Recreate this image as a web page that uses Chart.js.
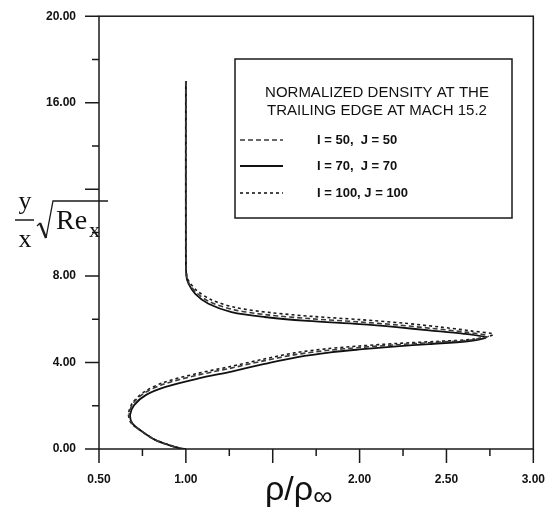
<!DOCTYPE html>
<html lang="en">
<head>
  <meta charset="UTF-8">
  <title>Normalized density at the trailing edge</title>
  <style>
    html, body { margin: 0; padding: 0; background: #ffffff; }
    #wrap { width: 554px; height: 510px; }
  </style>
</head>
<body>
  <div id="wrap"><canvas id="densityChart" width="554" height="510"></canvas></div>

  <script src="https://cdn.jsdelivr.net/npm/chart.js"></script>
  <script>
    // values (rho/rho_inf and y/x*sqrt(Re_x))
    const rhoI50 = [1.0, 1.0, 1.004, 1.017, 1.06, 1.14, 1.28, 1.47, 1.72, 2.0, 2.22, 2.42, 2.61, 2.74,
                    2.64, 2.42, 2.22, 2.0, 1.82, 1.63, 1.44, 1.25, 1.06, 0.87, 0.76, 0.695, 0.674, 0.688, 0.745, 0.822, 0.90, 0.968, 1.0];
    const etaI50 = [17.0, 9.0, 8.0, 7.68, 7.23, 6.79, 6.43, 6.20, 6.02, 5.87, 5.73, 5.57, 5.40, 5.22,
                    5.04, 4.92, 4.82, 4.69, 4.56, 4.36, 4.06, 3.72, 3.40, 2.99, 2.58, 2.10, 1.60, 1.19, 0.82, 0.43, 0.19, 0.035, 0.0];

    const rhoI70 = [1.0, 1.0, 1.003, 1.015, 1.054, 1.13, 1.263, 1.453, 1.70, 2.0, 2.213, 2.40, 2.593, 2.726,
                    2.62, 2.40, 2.213, 2.0, 1.833, 1.643, 1.453, 1.263, 1.073, 0.883, 0.769, 0.702, 0.679, 0.693, 0.75, 0.826, 0.902, 0.968, 1.0];
    const etaI70 = [17.0, 9.0, 8.0, 7.64, 7.17, 6.71, 6.33, 6.10, 5.92, 5.77, 5.63, 5.48, 5.33, 5.15,
                    4.98, 4.85, 4.74, 4.60, 4.47, 4.25, 3.93, 3.58, 3.26, 2.87, 2.49, 2.03, 1.57, 1.18, 0.80, 0.41, 0.18, 0.03, 0.0];

    const rhoI100 = [1.0, 1.0, 1.005, 1.02, 1.066, 1.15, 1.29, 1.49, 1.74, 2.0, 2.25, 2.46, 2.64, 2.77,
                     2.66, 2.44, 2.22, 2.0, 1.82, 1.63, 1.44, 1.25, 1.06, 0.87, 0.76, 0.695, 0.67, 0.683, 0.74, 0.818, 0.90, 0.968, 1.0];
    const etaI100 = [17.0, 9.0, 8.0, 7.72, 7.30, 6.88, 6.53, 6.30, 6.12, 5.98, 5.82, 5.64, 5.46, 5.30,
                     5.08, 4.97, 4.88, 4.76, 4.64, 4.45, 4.14, 3.80, 3.48, 3.07, 2.64, 2.15, 1.64, 1.22, 0.85, 0.45, 0.20, 0.04, 0.0];

    const seriesLabels = ['I = 50,  J = 50', 'I = 70,  J = 70', 'I = 100, J = 100'];
    const xLabeledTicks = [0.5, 1.0, 2.0, 2.5, 3.0];
    const yLabeledTicks = [0, 4, 8, 16, 20];
    const legendTitle = ['NORMALIZED DENSITY AT THE', 'TRAILING EDGE AT MACH 15.2'];

    const toPoints = (xs, ys) => xs.map((x, i) => ({ x: x, y: ys[i] }));

    // axis ticks (long at labelled steps, short in between), frame, titles and legend box
    const decorations = {
      id: 'decorations',
      afterDraw(chart) {
        const ctx = chart.ctx;
        const area = chart.chartArea;
        const xs = chart.scales.x;
        const ys = chart.scales.y;
        ctx.save();
        ctx.strokeStyle = '#1a1a1a';
        ctx.lineWidth = 1.5;
        ctx.strokeRect(area.left, area.top, area.right - area.left, area.bottom - area.top);

        ctx.beginPath();
        xs.ticks.forEach(t => {
          const px = xs.getPixelForValue(t.value);
          const major = Math.abs(t.value * 2 - Math.round(t.value * 2)) < 1e-6;
          ctx.moveTo(px, area.bottom);
          ctx.lineTo(px, area.bottom + (major ? 14 : 7));
        });
        ys.ticks.forEach(t => {
          const py = ys.getPixelForValue(t.value);
          const major = Math.round(t.value) % 4 === 0;
          ctx.moveTo(area.left, py);
          ctx.lineTo(area.left - (major ? 14 : 7), py);
        });
        ctx.stroke();

        // x title
        ctx.fillStyle = '#111';
        ctx.textBaseline = 'alphabetic';
        ctx.textAlign = 'left';
        ctx.font = '34px "Liberation Sans", Arial, sans-serif';
        ctx.fillText('ρ/ρ', 265, 500);
        const w = ctx.measureText('ρ/ρ').width;
        ctx.font = '27px "Liberation Sans", Arial, sans-serif';
        ctx.fillText('∞', 265 + w, 505);

        // y title: y/x sqrt(Re_x)
        ctx.font = '26px "Liberation Serif", "Times New Roman", serif';
        ctx.textAlign = 'center';
        ctx.fillText('y', 25, 209);
        ctx.fillText('x', 25, 247);
        ctx.beginPath();
        ctx.moveTo(15, 220);
        ctx.lineTo(34, 220);
        ctx.stroke();
        ctx.beginPath();
        ctx.lineWidth = 1.2;
        ctx.moveTo(37, 226);
        ctx.lineTo(40, 223);
        ctx.stroke();
        ctx.beginPath();
        ctx.lineWidth = 2.4;
        ctx.moveTo(40, 223);
        ctx.lineTo(46, 238);
        ctx.stroke();
        ctx.beginPath();
        ctx.lineWidth = 1.3;
        ctx.moveTo(46, 238);
        ctx.lineTo(53, 201);
        ctx.lineTo(108, 201);
        ctx.stroke();
        ctx.textAlign = 'left';
        ctx.font = '28px "Liberation Serif", "Times New Roman", serif';
        ctx.fillText('Re', 56, 229);
        ctx.font = '22px "Liberation Serif", "Times New Roman", serif';
        ctx.fillText('x', 89, 237);

        // legend
        ctx.lineWidth = 1.5;
        ctx.strokeStyle = '#1a1a1a';
        ctx.fillStyle = '#ffffff';
        ctx.fillRect(235, 59, 277, 159);
        ctx.strokeRect(235, 59, 277, 159);
        ctx.fillStyle = '#111';
        ctx.textAlign = 'center';
        ctx.font = '15px "Liberation Sans", Arial, sans-serif';
        ctx.fillText(legendTitle[0], 377, 97);
        ctx.fillText(legendTitle[1], 377, 115);
        const rowY = [140, 166, 193];
        chart.data.datasets.forEach((ds, i) => {
          ctx.save();
          ctx.strokeStyle = ds.borderColor;
          ctx.lineWidth = ds.borderWidth;
          ctx.setLineDash(ds.borderDash || []);
          ctx.beginPath();
          ctx.moveTo(240, rowY[i]);
          ctx.lineTo(283, rowY[i]);
          ctx.stroke();
          ctx.restore();
          ctx.textAlign = 'left';
          ctx.textBaseline = 'middle';
          ctx.font = 'bold 13px "Liberation Sans", Arial, sans-serif';
          ctx.fillText(ds.label, 317, rowY[i]);
        });
        ctx.restore();
      }
    };

    const ctx = document.getElementById('densityChart').getContext('2d');
    new Chart(ctx, {
      type: 'scatter',
      data: {
        datasets: [{
          label: seriesLabels[0],
          data: toPoints(rhoI50, etaI50),
          showLine: true,
          borderColor: '#3a3a3a',
          borderWidth: 1.6,
          borderDash: [5, 3],
          pointRadius: 0,
          tension: 0.3
        }, {
          label: seriesLabels[1],
          data: toPoints(rhoI70, etaI70),
          showLine: true,
          borderColor: '#111111',
          borderWidth: 1.8,
          pointRadius: 0,
          tension: 0.3
        }, {
          label: seriesLabels[2],
          data: toPoints(rhoI100, etaI100),
          showLine: true,
          borderColor: '#1a1a1a',
          borderWidth: 1.6,
          borderDash: [3, 3],
          pointRadius: 0,
          tension: 0.3
        }]
      },
      options: {
        responsive: false,
        animation: false,
        layout: { padding: { top: 15, right: 16, left: 0, bottom: 0 } },
        plugins: {
          legend: { display: false },
          tooltip: { enabled: false }
        },
        scales: {
          x: {
            type: 'linear',
            min: 0.5,
            max: 3.0,
            grid: { drawOnChartArea: false, tickLength: 14, color: 'rgba(0,0,0,0)' },
            border: { display: false },
            ticks: {
              stepSize: 0.25,
              padding: 9,
              maxRotation: 0,
              autoSkip: false,
              color: '#111',
              font: { family: '"Liberation Sans", Arial, sans-serif', size: 12, weight: 'bold' },
              callback: v => xLabeledTicks.includes(v) ? v.toFixed(2) : ''
            },
            afterFit: scale => { scale.height = 61; }
          },
          y: {
            type: 'linear',
            min: 0,
            max: 20,
            grid: { drawOnChartArea: false, tickLength: 14, color: 'rgba(0,0,0,0)' },
            border: { display: false },
            ticks: {
              stepSize: 2,
              padding: 9,
              autoSkip: false,
              color: '#111',
              font: { family: '"Liberation Sans", Arial, sans-serif', size: 12, weight: 'bold' },
              callback: v => yLabeledTicks.includes(v) ? v.toFixed(2) : ''
            },
            afterFit: scale => { scale.width = 99; }
          }
        }
      },
      plugins: [decorations]
    });
  </script>
</body>
</html>
